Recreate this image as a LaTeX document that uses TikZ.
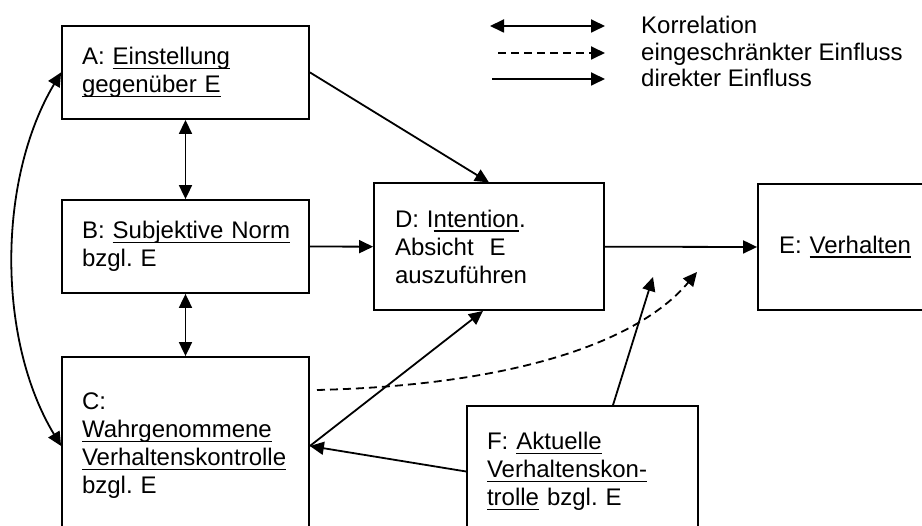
\documentclass[tikz,border=0pt]{standalone}
\usepackage{fontspec}
\setmainfont{Liberation Sans}
\frenchspacing
\newcommand\myul[1]{\leavevmode\setbox0\hbox{#1}\rlap{\rule[-4.4pt]{\wd0}{1.4pt}}\box0\relax}
\usetikzlibrary{arrows.meta}
\tikzset{
  box/.style={draw, line width=1.8pt, align=left, inner xsep=20pt, inner ysep=0pt,
    font=\fontsize{24}{28}\selectfont\frenchspacing, anchor=center},
  arr/.style={line width=1.8pt, -{Triangle[length=14pt,width=13pt]}},
  darr/.style={line width=1.8pt, {Triangle[length=14pt,width=13pt]}-{Triangle[length=14pt,width=13pt]}},
  dsh/.style={arr, dash pattern=on 8pt off 5pt},
  legtext/.style={anchor=base west, inner sep=0pt, font=\fontsize{24}{28}\selectfont},
}
\begin{document}
\begin{tikzpicture}[x=1pt,y=-1pt]
\useasboundingbox (0,0) rectangle (922,526);

% boxes
\node[box, text width=207pt, minimum height=93.3pt] (A) at (185.5,72.4)
  {A: \myul{Einstellung}\\\myul{gegenüber E}};
\node[box, text width=207pt, minimum height=93pt] (B) at (185.5,246.5)
  {\mbox{B: \myul{Subjektive Norm}}\\bzgl. E};
\node[box, text width=207pt, minimum height=178pt] (C) at (185.5,446)
  {C:\\\myul{Wahrgenommene}\\\myul{Verhaltenskontrolle}\\bzgl. E};
\node[box, text width=188pt, inner xsep=21pt, minimum height=126.7pt] (D) at (489,246.7)
  {D: I\myul{ntention}.\\Absicht~~E\\auszuführen};
\node[box, text width=160pt, inner xsep=21pt, minimum height=126pt] (E) at (859,247)
  {E: \myul{Verhalten}};
\node[box, text width=191pt, minimum height=131pt] (F) at (582.5,471.5)
  {F: \myul{Aktuelle}\\\myul{Verhaltenskon-}\\\myul{trolle} bzgl. E};

% connectors
\draw[darr] (A.south) -- (B.north);
\draw[darr] (B.south) -- (C.north);
\draw[darr] (A.west) .. controls (-3,180) and (-3,340) .. (C.west);
\draw[arr] (A.east) -- (D.north);
\draw[arr] (B.east) -- (D.west);
\draw[arr] (D.east) -- (E.west);
\draw[arr] (C.east) -- ([xshift=-6pt]D.south);
\draw[arr] (F.west) -- (C.east);
\coordinate (fm) at (653,277);
\draw[arr] ([xshift=30.5pt]F.north) -- (fm);
\coordinate (cs) at (317,390);
\coordinate (ce) at (697,272);
\draw[dsh] (cs) .. controls (520,385) and (640,340) .. (ce);

% legend
\coordinate (k1) at (490,26); \coordinate (k2) at (605,26);
\draw[darr] (k1) -- (k2);
\coordinate (e1) at (498,53); \coordinate (e2) at (605,53);
\draw[dsh] (e1) -- (e2);
\coordinate (d1) at (492,79); \coordinate (d2) at (605,79);
\draw[arr] (d1) -- (d2);
\node[legtext] (lk) at (641,34) {Korrelation};
\node[legtext] (le) at (641,61) {eingeschränkter Einfluss};
\node[legtext] (ld) at (641,87) {direkter Einfluss};
\end{tikzpicture}
\end{document}
